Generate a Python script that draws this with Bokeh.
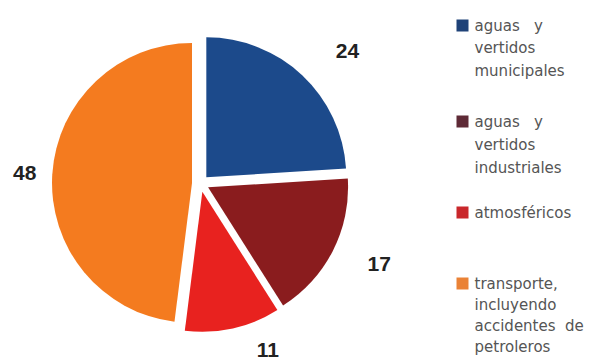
import math
from bokeh.plotting import figure
from bokeh.models import Range1d, ColumnDataSource
from bokeh.core.properties import value
from bokeh.embed import file_html
from bokeh.resources import INLINE

# ---- data ----
categories = ["aguas y vertidos municipales", "aguas y vertidos industriales",
              "atmosféricos", "transporte, incluyendo accidentes de petroleros"]
values = [24, 17, 11, 48]
labels = ["24", "17", "11", "48"]
legend_lines = [["aguas\u00a0\u00a0\u00a0y", "vertidos", "municipales"],
                ["aguas\u00a0\u00a0\u00a0y", "vertidos", "industriales"],
                ["atmosféricos"],
                ["transporte,", "incluyendo", "accidentes\u00a0\u00a0de", "petroleros"]]
colors = ["#1c4a8b", "#8a1c1e", "#e8221f", "#f47b1f"]
legend_colors = ["#1f4278", "#5e2a36", "#c9272b", "#ea8236"]

# ---- layout / style ----
W, H = 600, 363
cx, cy = 200, H - 183
R = 140
explode = 8.5
label_dist = [198, 196, 180, 176]
label_shift = [4.7, -2.8, -9.4, -0.3]   # degrees
legend_top = [25, 121, 212, 283]
line_gap = [22.5, 23, 0, 21]

p = figure(width=W, height=H, output_backend="svg", toolbar_location=None,
           x_range=Range1d(0, W), y_range=Range1d(0, H), min_border=0)
p.axis.visible = False
p.grid.visible = False
p.outline_line_color = None
p.background_fill_color = "white"

total = sum(values)
xs, ys, sa, ea, lx, ly = [], [], [], [], [], []
cum = 0.0
for i, v in enumerate(values):
    a0 = cum / total * 2 * math.pi
    cum += v
    a1 = cum / total * 2 * math.pi
    mid = (a0 + a1) / 2
    xs.append(cx + explode * math.sin(mid))
    ys.append(cy + explode * math.cos(mid))
    sa.append(math.pi / 2 - a1)
    ea.append(math.pi / 2 - a0)
    m2 = mid + math.radians(label_shift[i])
    lx.append(cx + label_dist[i] * math.sin(m2))
    ly.append(cy + label_dist[i] * math.cos(m2))

src = ColumnDataSource(dict(x=xs, y=ys, s=sa, e=ea, c=colors))
p.wedge(x="x", y="y", radius=R, start_angle="s", end_angle="e",
        fill_color="c", line_color=None, source=src)

p.text(x=lx, y=ly, text=labels, text_font=value("Liberation Sans"),
       text_font_style="bold", text_font_size="21px", text_color="#222222",
       text_align="center", text_baseline="middle")

# legend
sq_x, sq_y, tx, ty, tt = [], [], [], [], []
for i, lines in enumerate(legend_lines):
    y0 = legend_top[i]
    sq_x.append(462)
    sq_y.append(H - y0)
    for j, t in enumerate(lines):
        tx.append(474)
        ty.append(H - (y0 + j * line_gap[i]))
        tt.append(t)
p.rect(x=sq_x, y=sq_y, width=12, height=12, fill_color=legend_colors, line_color=None)
p.text(x=tx, y=ty, text=tt, text_font=value("DejaVu Sans"), text_font_size="15px",
       text_color="#555555", text_align="left", text_baseline="middle")

open("out.html", "w").write(file_html(p, INLINE))
